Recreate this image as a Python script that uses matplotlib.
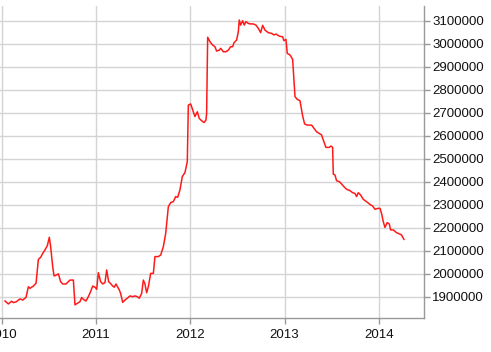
import numpy as np
import matplotlib
matplotlib.use("Agg")
import matplotlib.pyplot as plt

# decimal year, value
years = [2010.035, 2010.071, 2010.106, 2010.124, 2010.152, 2010.194, 2010.223, 2010.258,
         2010.283, 2010.300, 2010.336, 2010.364, 2010.389, 2010.413, 2010.435, 2010.459,
         2010.484, 2010.505, 2010.519, 2010.541, 2010.555, 2010.576, 2010.601, 2010.625,
         2010.647, 2010.682, 2010.707, 2010.724, 2010.760, 2010.777, 2010.802, 2010.830,
         2010.848, 2010.866, 2010.894, 2010.919, 2010.943, 2010.965, 2010.989, 2011.007,
         2011.025, 2011.049, 2011.071, 2011.095, 2011.113, 2011.134, 2011.159, 2011.177,
         2011.194, 2011.212, 2011.230, 2011.247, 2011.261, 2011.283, 2011.307, 2011.332,
         2011.360, 2011.389, 2011.413, 2011.438, 2011.459, 2011.484, 2011.502, 2011.519,
         2011.537, 2011.555, 2011.580, 2011.608, 2011.625, 2011.661, 2011.686, 2011.714,
         2011.739, 2011.767, 2011.792, 2011.820, 2011.845, 2011.866, 2011.890, 2011.915,
         2011.943, 2011.968, 2011.979, 2012.004, 2012.025, 2012.049, 2012.074, 2012.095,
         2012.120, 2012.145, 2012.166, 2012.173, 2012.184, 2012.208, 2012.237, 2012.261,
         2012.279, 2012.307, 2012.322, 2012.350, 2012.378, 2012.403, 2012.428, 2012.449,
         2012.463, 2012.491, 2012.509, 2012.519, 2012.534, 2012.555, 2012.572, 2012.590,
         2012.615, 2012.640, 2012.668, 2012.696, 2012.721, 2012.746, 2012.767, 2012.792,
         2012.827, 2012.862, 2012.887, 2012.908, 2012.943, 2012.979, 2012.993, 2013.014,
         2013.028, 2013.057, 2013.085, 2013.110, 2013.134, 2013.163, 2013.191, 2013.212,
         2013.240, 2013.286, 2013.311, 2013.339, 2013.367, 2013.392, 2013.410, 2013.438,
         2013.473, 2013.491, 2013.509, 2013.516, 2013.534, 2013.551, 2013.580, 2013.604,
         2013.629, 2013.657, 2013.693, 2013.721, 2013.746, 2013.763, 2013.781, 2013.806,
         2013.834, 2013.869, 2013.905, 2013.933, 2013.958, 2013.993, 2014.011, 2014.028,
         2014.046, 2014.064, 2014.088, 2014.110, 2014.124, 2014.152, 2014.187, 2014.223,
         2014.240, 2014.265]

values = [1881000, 1868000, 1880000, 1874000, 1877000, 1890000, 1885000, 1897000,
          1943000, 1936000, 1946000, 1958000, 2062000, 2071000, 2088000, 2103000,
          2122000, 2158000, 2117000, 2030000, 1990000, 1993000, 1999000, 1965000,
          1955000, 1955000, 1965000, 1972000, 1972000, 1864000, 1871000, 1878000,
          1896000, 1888000, 1881000, 1900000, 1922000, 1946000, 1941000, 1932000,
          2004000, 1965000, 1955000, 1961000, 2016000, 1965000, 1955000, 1946000,
          1941000, 1955000, 1941000, 1929000, 1914000, 1875000, 1885000, 1893000,
          1903000, 1900000, 1903000, 1900000, 1893000, 1914000, 1972000, 1955000,
          1917000, 1943000, 2001000, 2001000, 2074000, 2074000, 2081000, 2117000,
          2175000, 2291000, 2309000, 2313000, 2335000, 2332000, 2364000, 2422000,
          2439000, 2487000, 2733000, 2738000, 2712000, 2683000, 2704000, 2675000,
          2665000, 2657000, 2668000, 2697000, 3028000, 3009000, 2994000, 2987000,
          2968000, 2972000, 2980000, 2965000, 2965000, 2972000, 2987000, 2987000,
          3004000, 3016000, 3052000, 3103000, 3081000, 3100000, 3081000, 3096000,
          3088000, 3086000, 3086000, 3081000, 3067000, 3048000, 3080000, 3059000,
          3048000, 3045000, 3038000, 3042000, 3033000, 3030000, 3013000, 3019000,
          2958000, 2951000, 2932000, 2770000, 2758000, 2752000, 2686000, 2651000,
          2646000, 2646000, 2632000, 2617000, 2610000, 2603000, 2581000, 2549000,
          2549000, 2555000, 2549000, 2433000, 2429000, 2404000, 2400000, 2390000,
          2378000, 2367000, 2361000, 2352000, 2349000, 2335000, 2352000, 2342000,
          2323000, 2313000, 2301000, 2294000, 2280000, 2284000, 2284000, 2262000,
          2226000, 2201000, 2222000, 2216000, 2190000, 2190000, 2178000, 2172000,
          2168000, 2149000]

year_ticks = [2010, 2011, 2012, 2013, 2014]
value_ticks = list(range(1900000, 3100001, 100000))

plt.rcParams['font.family'] = ['Liberation Sans', 'DejaVu Sans']

fig = plt.figure(figsize=(4.91, 3.52), dpi=100)
ax = fig.add_axes([0 / 491, 1 - 318 / 352, 424 / 491, 312 / 352])

ax.plot(years, values, color='#ff1a1a', linewidth=1.1)

ax.set_xlim(2009.982, 2014.478)
ax.set_ylim(1807000, 3164000)
ax.set_xticks(year_ticks)
ax.set_xticklabels([str(y) for y in year_ticks])
ax.set_yticks(value_ticks)
ax.set_yticklabels([str(v) for v in value_ticks])

ax.yaxis.tick_right()
ax.grid(True, color='#d4d4d4', linewidth=1.0)
ax.set_axisbelow(True)

for side in ['top', 'left']:
    ax.spines[side].set_visible(False)
for side in ['bottom', 'right']:
    ax.spines[side].set_color('#999999')
    ax.spines[side].set_linewidth(1.0)

ax.tick_params(axis='both', colors='#999999', length=4, width=1,
               labelcolor='#111111', labelsize=9.5)
ax.tick_params(axis='y', pad=2)
ax.tick_params(axis='x', pad=4)

fig.savefig('out.png', dpi=100)
